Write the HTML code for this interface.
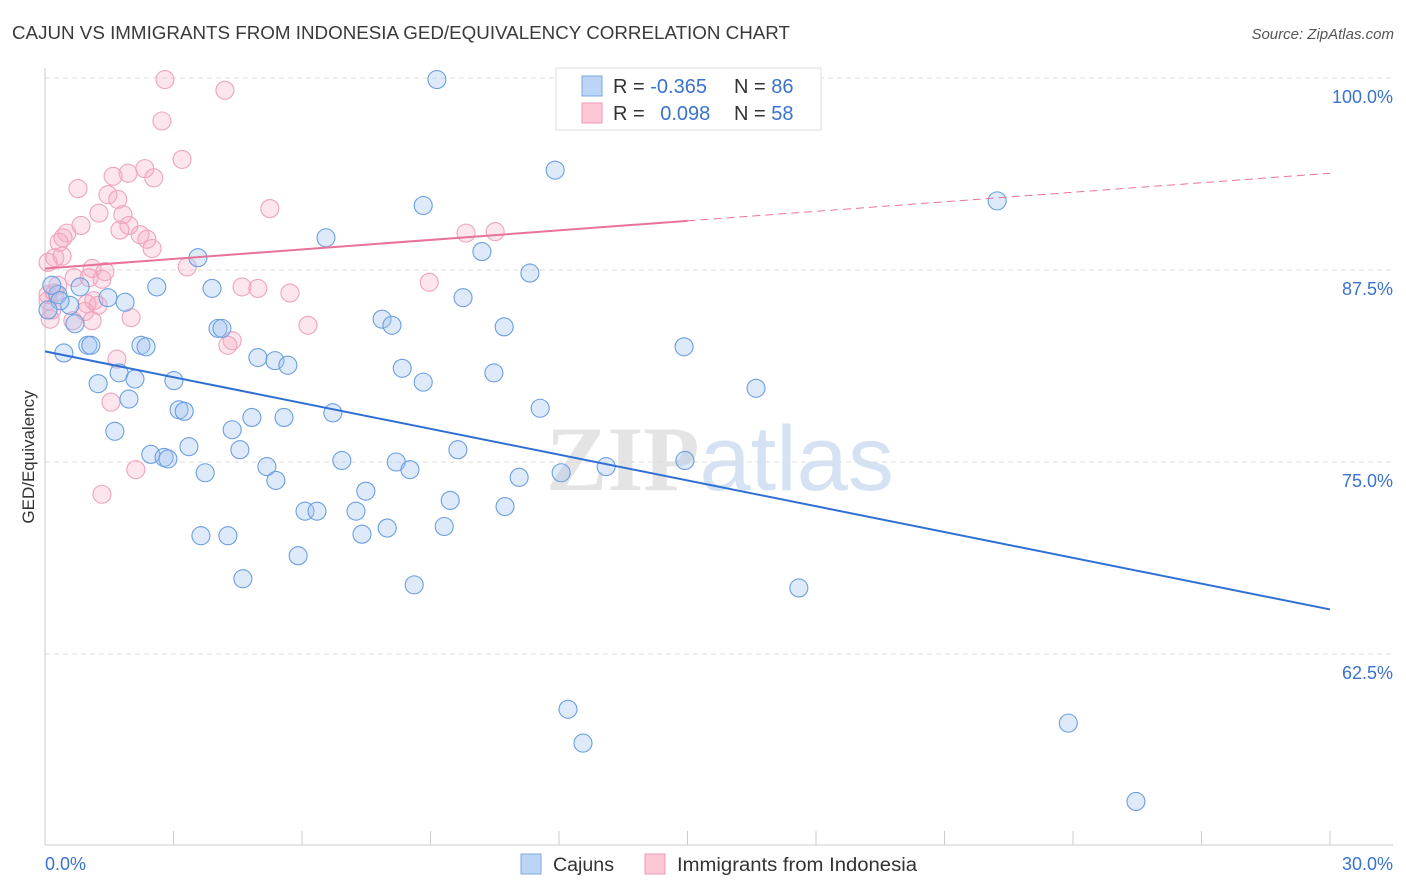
<!DOCTYPE html>
<html><head><meta charset="utf-8"><style>
body{margin:0;background:#fff;font-family:"Liberation Sans",sans-serif}
svg{display:block}
</style></head><body>
<svg id="chart" width="1406" height="892" xmlns="http://www.w3.org/2000/svg">
<text x="12" y="39" font-size="18" fill="#3a3a3a" textLength="778" lengthAdjust="spacingAndGlyphs">CAJUN VS IMMIGRANTS FROM INDONESIA GED/EQUIVALENCY CORRELATION CHART</text>
<text x="1394" y="39" font-size="15" font-style="italic" fill="#555" text-anchor="end">Source: ZipAtlas.com</text>
<text x="720" y="490" font-size="92" text-anchor="middle" font-family="Liberation Serif,serif" fill="#e4e4e4" font-weight="bold">ZIP<tspan fill="#d4e2f4" font-family="Liberation Sans,sans-serif" font-weight="normal">atlas</tspan></text>
<g id="grid"></g><g id="axes"></g>
<g id="pinkpts"></g><g id="bluepts"></g><g id="lines"></g>
<text transform="translate(34,457) rotate(-90)" font-size="17" fill="#333" text-anchor="middle">GED/Equivalency</text>
<g>
<rect x="556" y="68" width="265" height="62" fill="#fff" stroke="#ddd"/>
<rect x="582" y="76" width="20" height="20" fill="#bcd5f7" stroke="#7aa7e3"/>
<rect x="582" y="103" width="20" height="20" fill="#fcc8d6" stroke="#ef9ab5"/>
<text x="613" y="93" font-size="20" fill="#333">R = <tspan fill="#3a72d0">-0.365</tspan></text>
<text x="734" y="93" font-size="20" fill="#333">N = <tspan fill="#3a72d0">86</tspan></text>
<text x="613" y="120" font-size="20" fill="#333">R = <tspan fill="#3a72d0" dx="10">0.098</tspan></text>
<text x="734" y="120" font-size="20" fill="#333">N = <tspan fill="#3a72d0">58</tspan></text>
</g>
<g>
<rect x="521" y="854" width="20" height="20" fill="#bcd5f7" stroke="#7aa7e3"/>
<text x="553" y="871" font-size="19" fill="#333" textLength="61" lengthAdjust="spacingAndGlyphs">Cajuns</text>
<rect x="645" y="854" width="20" height="20" fill="#fcc8d6" stroke="#ef9ab5"/>
<text x="677" y="871" font-size="19" fill="#333" textLength="240" lengthAdjust="spacingAndGlyphs">Immigrants from Indonesia</text>
</g>
</svg>
<script>
const blueX=[9.15,11.91,22.23,8.83,6.56,10.20,3.57,11.32,2.61,3.90,0.30,0.58,1.47,1.87,9.76,0.82,7.87,8.10,10.72,4.04,4.13,0.70,0.44,1.00,1.07,2.24,2.36,14.92,4.97,5.37,5.67,8.34,10.48,1.73,2.10,3.01,1.24,8.83,16.60,1.96,3.13,3.25,6.72,11.56,4.83,5.58,1.63,4.37,3.36,4.55,9.64,2.47,2.78,2.87,6.93,8.20,8.52,14.94,5.18,13.10,12.05,3.74,5.39,11.07,7.49,9.46,10.74,6.07,6.35,7.26,9.32,7.99,7.40,3.64,4.27,5.91,4.62,8.62,17.60,12.21,12.56,23.89,25.47,0.16,0.35,0.07];
const blueY=[99.9,94.0,92.0,91.7,89.6,88.7,88.3,87.3,86.4,86.3,85.9,85.2,85.7,85.4,85.7,86.4,84.3,83.9,83.8,83.7,83.7,84.0,82.1,82.6,82.6,82.6,82.5,82.5,81.8,81.6,81.3,81.1,80.8,80.8,80.4,80.3,80.1,80.2,79.8,79.1,78.4,78.3,78.2,78.5,77.9,77.9,77.0,77.1,76.0,75.8,75.8,75.5,75.3,75.2,75.1,75.0,74.5,75.1,74.7,74.7,74.3,74.3,73.8,74.0,73.1,72.5,72.1,71.8,71.8,71.8,70.8,70.7,70.3,70.2,70.2,68.9,67.4,67.0,66.8,58.9,56.7,58.0,52.9,86.5,85.5,84.9];
const pinkX=[2.80,4.20,2.73,3.20,2.33,1.94,2.54,1.59,0.77,1.47,1.70,5.25,1.26,1.82,0.84,9.83,10.51,1.96,1.75,0.51,0.42,0.33,2.22,2.38,2.50,0.23,0.40,0.07,3.32,1.10,1.40,0.68,1.03,1.33,4.60,4.97,5.72,8.97,0.30,0.07,1.14,0.98,1.24,0.93,0.16,2.01,1.10,0.65,6.14,4.37,4.27,1.68,1.54,2.12,1.33,0.07,0.23,0.12];
const pinkY=[99.9,99.2,97.2,94.7,94.1,93.8,93.5,93.6,92.8,92.4,92.1,91.5,91.2,91.1,90.4,89.9,90.0,90.4,90.1,89.9,89.6,89.3,89.8,89.5,88.9,88.3,88.4,88.0,87.7,87.6,87.4,87.0,87.0,86.9,86.4,86.3,86.0,86.7,86.5,85.9,85.5,85.3,85.2,84.8,84.9,84.4,84.2,84.2,83.9,82.9,82.6,81.7,78.9,74.5,72.9,85.5,86.0,84.3];
const blueTrend=[82.2,65.4];
const pinkTrend=[87.6,93.8];
const pinkSolidEnd=15;
const yTicks=[100,87.5,75,62.5];
const yTickLabels=["100.0%","87.5%","75.0%","62.5%"];
const xTicks=[0,3,6,9,12,15,18,21,24,27,30];

const NS="http://www.w3.org/2000/svg";
const X=v=>45+v*1285/30, Y=v=>78+(100-v)*15.36;
function mk(tag,attrs,parent){const e=document.createElementNS(NS,tag);for(const k in attrs)e.setAttribute(k,attrs[k]);document.getElementById(parent).appendChild(e);return e;}
yTicks.forEach((t,i)=>{
  const l=mk('line',{x1:45,x2:1393,y1:Y(t),y2:Y(t),stroke:'#ddd','stroke-dasharray':'5,4'},'grid');
  
  
  const tx=mk('text',{x:1393,y:Y(t)+25,'font-size':18,fill:'#3a72d0','text-anchor':'end'},'grid');
  tx.textContent=yTickLabels[i];
  
  
});
const ax=mk('line',{x1:45,x2:45,y1:68,y2:845,stroke:'#ccc'},'axes');


const bx=mk('line',{x1:45,x2:1393,y1:845,y2:845,stroke:'#ccc'},'axes');


xTicks.forEach(t=>{
  const l=mk('line',{x1:X(t),x2:X(t),y1:831,y2:845,stroke:'#ccc'},'axes');
  
  
});
const xl0=mk('text',{x:45,y:870,'font-size':18,fill:'#3a72d0'},'axes');xl0.textContent='0.0%';


const xl1=mk('text',{x:1393,y:870,'font-size':18,fill:'#3a72d0','text-anchor':'end'},'axes');xl1.textContent='30.0%';


pinkX.forEach((v,i)=>{
  const c=mk('circle',{cx:X(v),cy:Y(pinkY[i]),r:9,fill:'rgba(245,170,196,0.3)',stroke:'#efa3bd','stroke-width':1.1},'pinkpts');
  
  
});
blueX.forEach((v,i)=>{
  const c=mk('circle',{cx:X(v),cy:Y(blueY[i]),r:9,fill:'rgba(160,196,240,0.35)',stroke:'#6a9fe0','stroke-width':1.1},'bluepts');
  
  
});
const bl=mk('line',{x1:X(0),y1:Y(blueTrend[0]),x2:X(30),y2:Y(blueTrend[1]),stroke:'#2f6fd4','stroke-width':2},'lines');


const pm=pinkTrend[0]+(pinkTrend[1]-pinkTrend[0])*pinkSolidEnd/30;
const pl=mk('line',{x1:X(0),y1:Y(pinkTrend[0]),x2:X(pinkSolidEnd),y2:Y(pm),stroke:'#e8739a','stroke-width':2},'lines');


const pd=mk('line',{x1:X(pinkSolidEnd),y1:Y(pm),x2:X(30),y2:Y(pinkTrend[1]),stroke:'#e8739a','stroke-width':1,'stroke-dasharray':'8,5'},'lines');


</script>
</body></html>
